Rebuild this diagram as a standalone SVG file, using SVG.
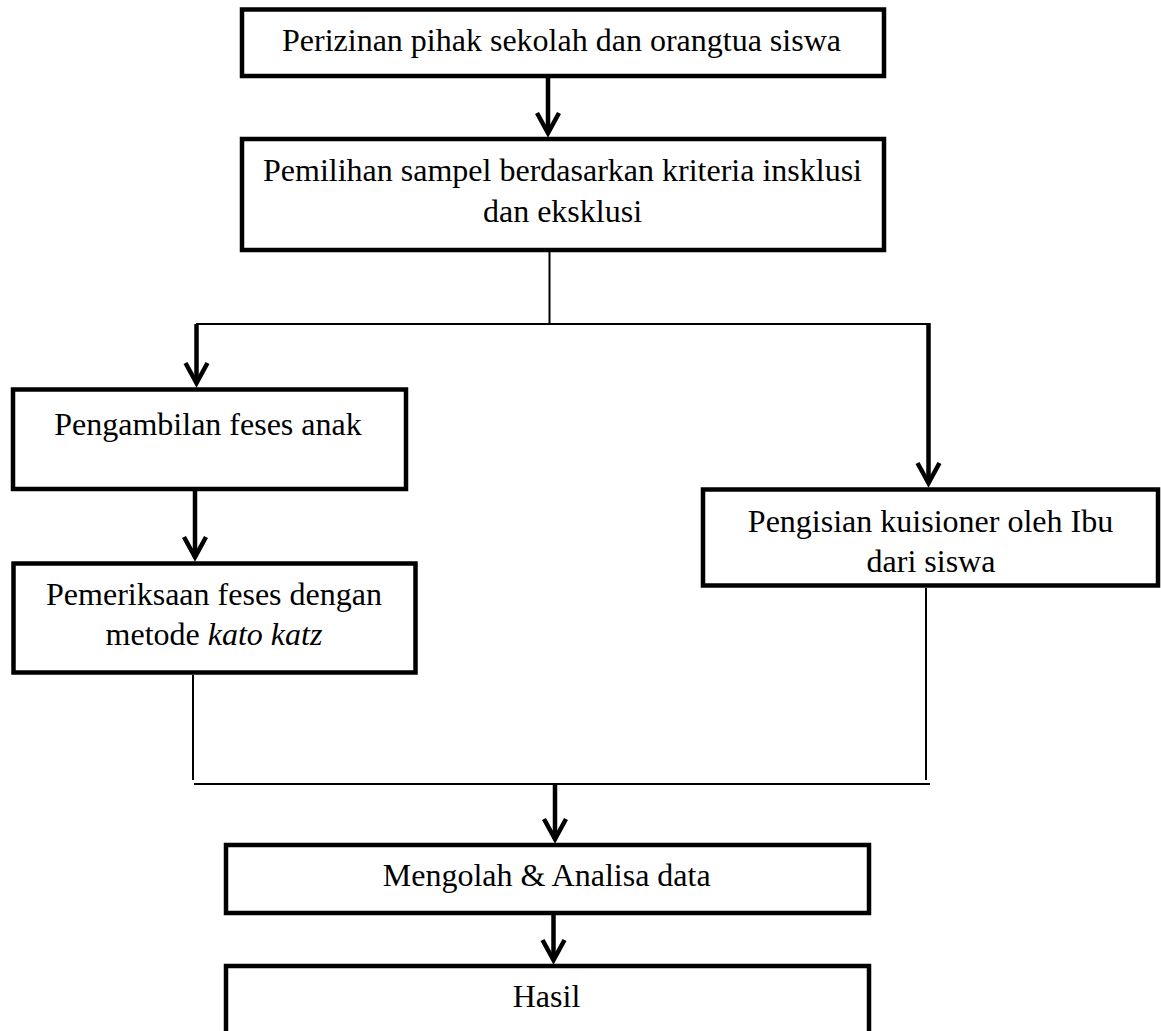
<svg xmlns="http://www.w3.org/2000/svg" width="1161" height="1031" viewBox="0 0 1161 1031">
<style>
  .box { fill: #ffffff; stroke: #000000; stroke-width: 4.5; }
  .t { font-family: 'Liberation Serif', 'Times New Roman', Times, serif; font-size: 32px; fill: #000000; text-anchor: middle; }
  .thick { fill: none; stroke: #000000; stroke-width: 4.5; }
  .thin { fill: none; stroke: #000000; stroke-width: 2; }
</style>
<defs>
  <marker id="arrow" markerUnits="userSpaceOnUse" viewBox="-26 -16 34 32" refX="0" refY="0" markerWidth="34" markerHeight="32" orient="auto">
    <path d="M -20 -11 L 0 0 L -20 11" fill="none" stroke="#000000" stroke-width="4.5" stroke-linejoin="miter"/>
  </marker>
</defs>
<rect width="1161" height="1031" fill="#ffffff"/>
<g id="connectors">
  <path class="thick" d="M 548 78 L 548 133" marker-end="url(#arrow)"/>
  <path class="thin" d="M 549.5 252 L 549.5 324"/>
  <path class="thin" d="M 196 324 L 929 324"/>
  <path class="thick" d="M 196.5 324 L 196.5 383" marker-end="url(#arrow)"/>
  <path class="thick" d="M 928.5 323 L 928.5 483" marker-end="url(#arrow)"/>
  <path class="thick" d="M 195 491 L 195 557" marker-end="url(#arrow)"/>
  <path class="thin" d="M 193 675 L 193 780"/>
  <path class="thin" d="M 926 588 L 926 780"/>
  <path class="thin" d="M 194 784 L 930 784"/>
  <path class="thick" d="M 555 785 L 555 839" marker-end="url(#arrow)"/>
  <path class="thick" d="M 553.5 915 L 553.5 960" marker-end="url(#arrow)"/>
</g>
<g id="node-perizinan">
  <rect class="box" x="242" y="9.5" width="642" height="66.5"/>
  <text class="t" x="561.5" y="51">Perizinan pihak sekolah dan orangtua siswa</text>
</g>
<g id="node-pemilihan">
  <rect class="box" x="242" y="139" width="642" height="111"/>
  <text class="t" x="562.5" y="181">Pemilihan sampel berdasarkan kriteria insklusi</text>
  <text class="t" x="562.5" y="222">dan eksklusi</text>
</g>
<g id="node-pengambilan">
  <rect class="box" x="13" y="389.5" width="393" height="99.5"/>
  <text class="t" x="208" y="435">Pengambilan feses anak</text>
</g>
<g id="node-pemeriksaan">
  <rect class="box" x="13.5" y="563.5" width="402" height="109"/>
  <text class="t" x="214" y="605">Pemeriksaan feses dengan</text>
  <text class="t" x="214" y="645">metode <tspan font-style="italic">kato katz</tspan></text>
</g>
<g id="node-pengisian">
  <rect class="box" x="703" y="489.5" width="455" height="96"/>
  <text class="t" x="930.5" y="532">Pengisian kuisioner oleh Ibu</text>
  <text class="t" x="931" y="572">dari siswa</text>
</g>
<g id="node-mengolah">
  <rect class="box" x="226" y="845" width="643" height="68"/>
  <text class="t" x="546.7" y="886">Mengolah &amp; Analisa data</text>
</g>
<g id="node-hasil">
  <rect class="box" x="226" y="966" width="643" height="80"/>
  <text class="t" x="546.5" y="1007">Hasil</text>
</g>
</svg>
